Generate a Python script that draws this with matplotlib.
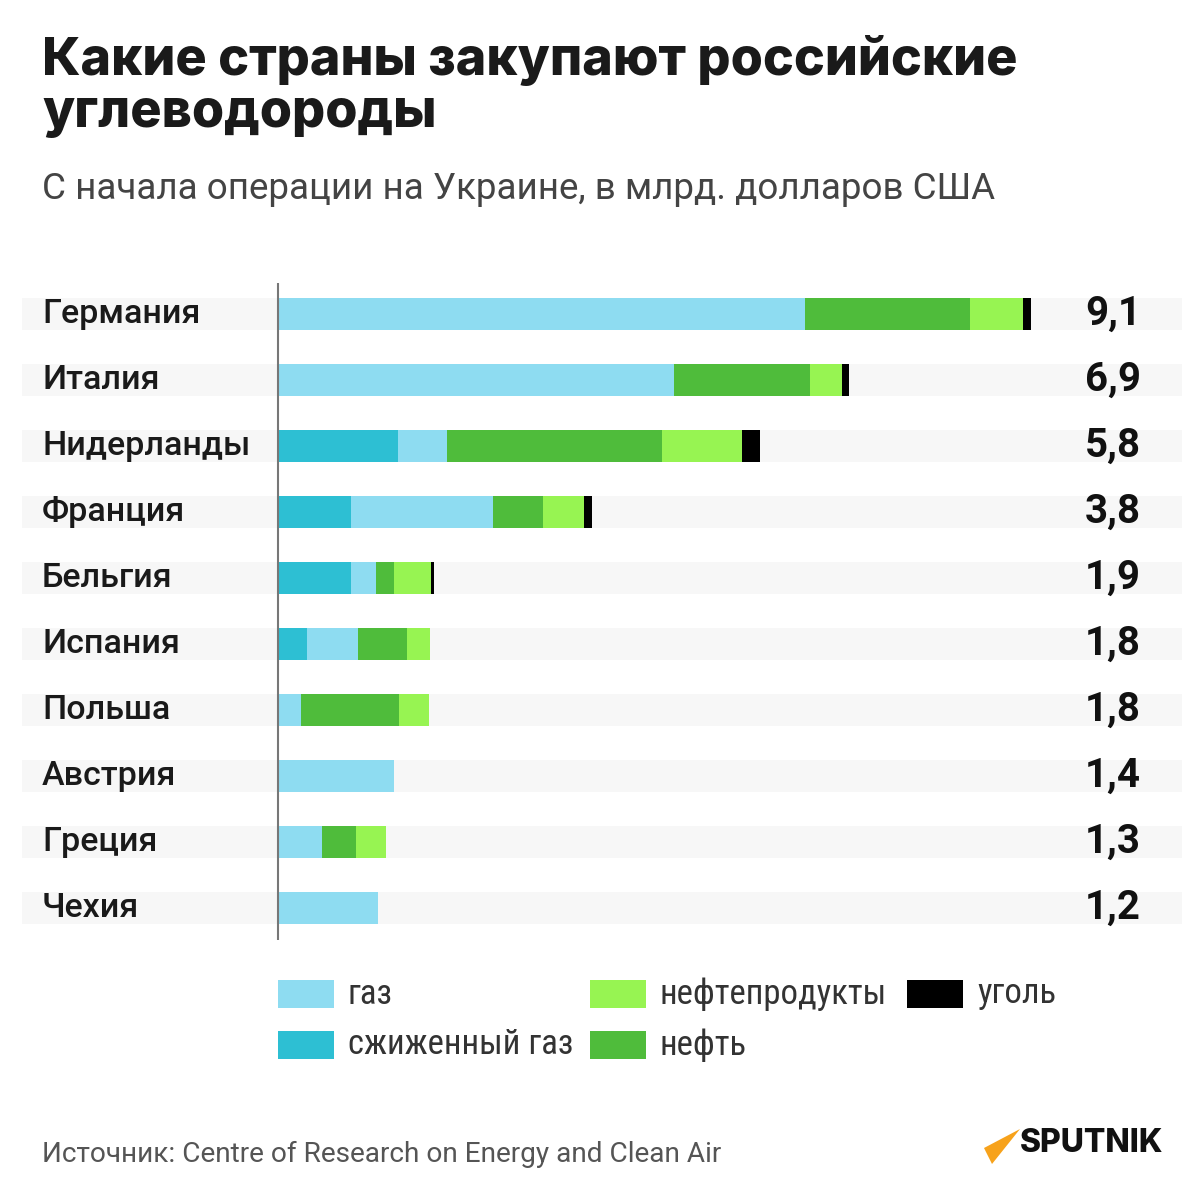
import matplotlib.pyplot as plt
from matplotlib.patches import Rectangle, Polygon
import numpy as np

# Data: Russian hydrocarbon purchases since the start of the operation, bn USD
countries = ['Германия', 'Италия', 'Нидерланды', 'Франция', 'Бельгия',
             'Испания', 'Польша', 'Австрия', 'Греция', 'Чехия']
totals = ['9,1', '6,9', '5,8', '3,8', '1,9', '1,8', '1,8', '1,4', '1,3', '1,2']
lng = [0.00, 0.00, 1.45, 0.88, 0.88, 0.35, 0.00, 0.00, 0.00, 0.00]
gas = [6.37, 4.78, 0.59, 1.72, 0.31, 0.62, 0.28, 1.40, 0.53, 1.21]
oil = [1.99, 1.65, 2.60, 0.60, 0.21, 0.59, 1.18, 0.00, 0.41, 0.00]
products = [0.64, 0.39, 0.97, 0.50, 0.45, 0.28, 0.37, 0.00, 0.37, 0.00]
coal = [0.10, 0.08, 0.22, 0.10, 0.03, 0.00, 0.00, 0.00, 0.00, 0.00]

series = [('сжиженный газ', lng, '#2dbfd3'),
          ('газ', gas, '#8edcf1'),
          ('нефть', oil, '#4fbc3b'),
          ('нефтепродукты', products, '#97f452'),
          ('уголь', coal, '#000000')]

W = 1200
fig = plt.figure(figsize=(12, 12), dpi=100)
fig.patch.set_facecolor('white')

# overlay in pixel coordinates for text and legend
ov = fig.add_axes([0, 0, 1, 1], zorder=0)
ov.set_xlim(0, W)
ov.set_ylim(W, 0)
ov.axis('off')

# bar axes: value 0 sits at x=278px, 82.75 px per unit, rows 66 px apart
scale = 82.75
x0 = 278
top, bottom = 283, 940
row0, step = 314, 66
ax = fig.add_axes([0, 1 - bottom / W, 1, (bottom - top) / W], zorder=1)
ax.patch.set_alpha(0)
ax.set_xlim(-x0 / scale, (W - x0) / scale)
ax.set_ylim((bottom - row0) / step, (top - row0) / step)
ax.axis('off')

y = np.arange(len(countries))
h = 32 / step

for i in y:
    ax.axhspan(i - h / 2, i + h / 2, xmin=22 / W, xmax=1182 / W,
               color='#f7f7f7', lw=0, zorder=0)

left = np.zeros(len(countries))
for name, vals, col in series:
    vals = np.array(vals)
    ax.barh(y, vals, left=left, height=h, color=col, lw=0, zorder=2)
    left += vals

ax.axvline(0, color='#777777', lw=1.5, zorder=3)

for i, (c, t) in enumerate(zip(countries, totals)):
    ax.text(42 / W, i, c, transform=ax.get_yaxis_transform(), ha='left',
            va='center', fontsize=24.5, color='#1a1a1a', family='Roboto',
            fontweight='medium')
    ax.text(1141 / W, i, t, transform=ax.get_yaxis_transform(), ha='right',
            va='center', fontsize=29, color='#111111', family='Roboto',
            fontweight='bold')

# title and subtitle
ov.text(42, 60, 'Какие страны закупают российские', fontsize=37.5,
        fontweight='heavy', family='Inter', color='#1a1a1a', va='center')
ov.text(42, 113, 'углеводороды', fontsize=37.5, fontweight='heavy',
        family='Inter', color='#1a1a1a', va='center')
ov.text(42, 189, 'С начала операции на Украине, в млрд. долларов США',
        fontsize=26.5, family='Roboto', color='#444444', va='center')

# legend
leg = [('газ', 278, 994), ('сжиженный газ', 278, 1045),
       ('нефтепродукты', 590, 994), ('нефть', 590, 1045),
       ('уголь', 907, 994)]
colors = {s[0]: s[2] for s in series}
for name, lx, ly in leg:
    ov.add_patch(Rectangle((lx, ly - 14), 56, 28, color=colors[name], lw=0))
    ov.text(lx + 70, ly, name, fontsize=25, color='#333333', va='center',
            family=['Liberation Sans Narrow', 'Roboto Condensed', 'DejaVu Sans'])

# source and logo
ov.text(42, 1154, 'Источник: Centre of Research on Energy and Clean Air',
        fontsize=20.2, color='#555555', family='Roboto', va='center')
ov.add_patch(Polygon([(984, 1148), (1020, 1129), (992, 1164)],
                     closed=True, color='#f7a21b', lw=0))
ov.text(1020, 1144, 'SPUTNIK', fontsize=23, fontweight='heavy',
        family='Inter', color='#111111', va='center')

fig.savefig('out.png', dpi=100, facecolor='white')
